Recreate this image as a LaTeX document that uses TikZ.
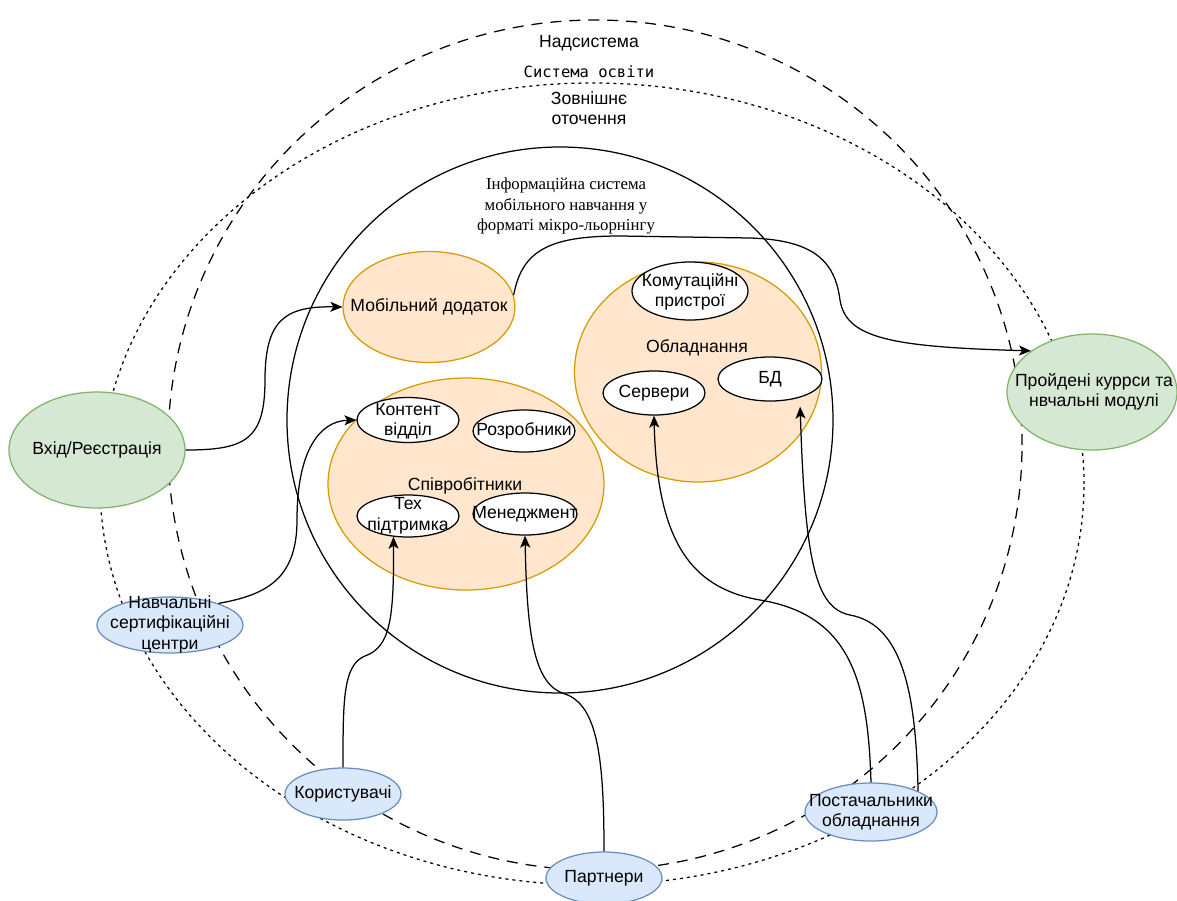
\documentclass[tikz,border=0pt]{standalone}
\usepackage{fontspec}
\setmainfont{Liberation Sans}
\newfontfamily\serifcyr{Liberation Serif}
\newfontfamily\monocyr{DejaVu Sans Mono}
\usetikzlibrary{arrows.meta,shapes.geometric}

\definecolor{orfill}{HTML}{FFE6CC}
\definecolor{ordraw}{HTML}{D79B00}
\definecolor{grfill}{HTML}{D5E8D4}
\definecolor{grdraw}{HTML}{82B366}
\definecolor{blfill}{HTML}{DAE8FC}
\definecolor{bldraw}{HTML}{6C8EBF}

\begin{document}
\begin{tikzpicture}[x=1pt,y=-1pt,line width=1.25pt,
  oval/.style 2 args={ellipse,inner sep=0pt,minimum width=#1,minimum height=#2},
  orange/.style={draw=ordraw,fill=orfill},
  whiteov/.style={draw=black,fill=white},
  green/.style={draw=grdraw,fill=grfill},
  blue/.style={draw=bldraw,fill=blfill},
  lab/.style={inner sep=0pt,align=center,font=\fontsize{17.6}{20.5}\selectfont},
  serlab/.style={inner sep=0pt,align=center,font=\serifcyr\fontsize{16.8}{20.5}\selectfont},
  monolab/.style={inner sep=0pt,font=\monocyr\fontsize{15.5}{18}\selectfont},
  outerring/.style={draw=black,dash pattern=on 11pt off 8pt},
  eduring/.style={draw=black,dash pattern=on 3pt off 4pt},
  link/.style={draw=black,-{Stealth[length=12pt,width=10pt,inset=3pt]}}]

\useasboundingbox (0,0) rectangle (1177,900);

% system boundaries
\draw[outerring] (595,445) ellipse [x radius=427pt,y radius=425pt];
\draw[eduring] (592,484) ellipse [x radius=492pt,y radius=401pt];
\draw[black] (560,420) circle [radius=273pt];

\node[lab] (supersys) at (589,43) {Надсистема};
\node[monolab] (edusys) at (589,72) {Система освіти};
\node[lab] (environ) at (589,108) {Зовнішнє\\оточення};
\node[serlab] (infosys) at (566,206) {Інформаційна система\\мобільного навчання у\\форматі мікро-льорнінгу};

% subsystems
\node[oval={172pt}{111pt},orange] (mob) at (429,307) {};
\node[lab] (mob-t) at (mob) {Мобільний додаток};

\node[oval={247pt}{220pt},orange] (equip) at (698,372) {};
\node[lab] (equip-t) at (697,348) {Обладнання};

\node[oval={276pt}{212pt},orange] (staff) at (466,484) {};
\node[lab] (staff-t) at (465,486) {Співробітники};

% equipment parts
\node[oval={116pt}{58pt},whiteov] (switch) at (690,291) {};
\node[lab] (switch-t) at (690,292) {Комутаційні\\пристрої};
\node[oval={102pt}{44pt},whiteov] (servers) at (654,393) {};
\node[lab] (servers-t) at (servers) {Сервери};
\node[oval={104pt}{44pt},whiteov] (db) at (770,379) {};
\node[lab] (db-t) at (db) {БД};

% staff units
\node[oval={102pt}{45pt},whiteov] (content) at (408,420) {};
\node[lab] (content-t) at (408,421) {Контент\\відділ};
\node[oval={102pt}{42pt},whiteov] (devs) at (524,431) {};
\node[lab] (devs-t) at (devs) {Розробники};
\node[oval={102pt}{42pt},whiteov] (support) at (408,516) {};
\node[lab] (support-t) at (408,516) {Тех\\підтримка};
\node[oval={104pt}{42pt},whiteov] (mgmt) at (525,514) {};
\node[lab] (mgmt-t) at (mgmt) {Менеджмент};

% input and output
\node[oval={176pt}{116pt},green] (login) at (97,450) {};
\node[lab] (login-t) at (login) {Вхід/Реєстрація};
\node[oval={170pt}{116pt},green] (passed) at (1092,392) {};
\node[lab] (passed-t) at (1094,392) {Пройдені куррси та\\нвчальні модулі};

% external actors
\node[oval={146pt}{56pt},blue] (ncc) at (170,625) {};
\node[lab] (ncc-t) at (170,624) {Навчальні\\сертифікаційні\\центри};
\node[oval={116pt}{52pt},blue] (users) at (343,794) {};
\node[lab] (users-t) at (users) {Користувачі};
\node[oval={116pt}{52pt},blue] (partners) at (604,878) {};
\node[lab] (partners-t) at (partners) {Партнери};
\node[oval={132pt}{58pt},blue] (suppliers) at (871,812) {};
\node[lab] (suppliers-t) at (871,812) {Постачальники\\обладнання};

% flows
\draw[link] (login.east) .. controls (245,450) and (265,440) .. (265,380)
  .. controls (265,320) and (285,306) .. (mob.west);
\draw[link] (ncc.24) .. controls (265,595) and (297,580) .. (297,520)
  .. controls (297,450) and (320,421) .. (content.west);
\draw[link] (mob.8) .. controls (522,250) and (550,236) .. (620,236) -- (750,238)
  .. controls (815,240) and (835,262) .. (840,300)
  .. controls (846,338) and (890,347) .. (passed.146);
\draw[link] (users.north) .. controls (343,700) and (343,665) .. (365,656)
  .. controls (390,647) and (394,620) .. (support.235);
\draw[link] (partners.north) .. controls (604,760) and (598,705) .. (565,694)
  .. controls (535,685) and (527,640) .. (mgmt.south);
\draw[link] (suppliers.north) .. controls (868,680) and (850,615) .. (760,600)
  .. controls (690,588) and (657,540) .. (servers.south);
\draw[link,shorten >=9pt] (suppliers.24) .. controls (916,700) and (905,625) .. (850,615)
  .. controls (815,608) and (805,560) .. (db.328);
\end{tikzpicture}
\end{document}
